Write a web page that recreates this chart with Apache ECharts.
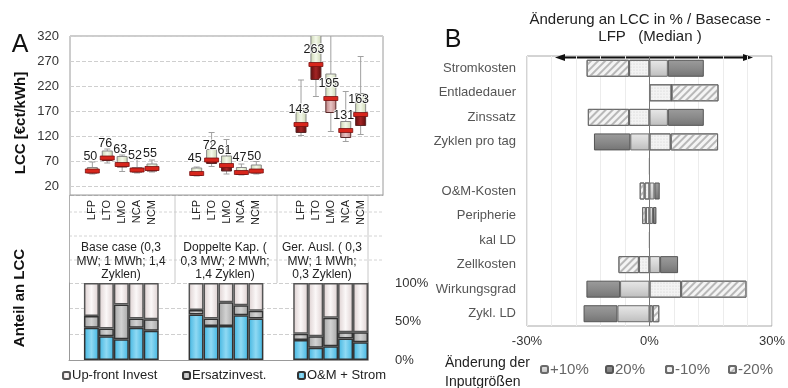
<!DOCTYPE html>
<html>
<head>
<meta charset="utf-8">
<title>LCC</title>
<script src="https://cdn.jsdelivr.net/npm/echarts@6/dist/echarts.min.js"></script>
<style>
    html, body { margin: 0; padding: 0; background: #fff; }
    #main { width: 788px; height: 388px; }
</style>
</head>
<body>
<div id="main"></div>
<script>
// ---- Panel A: LCC boxes per case / chemistry ----
var groups = [
    'Base case (0,3\nMW; 1 MWh; 1,4\nZyklen)',
    'Doppelte Kap. (\n0,3 MW; 2 MWh;\n1,4 Zyklen)',
    'Ger. Ausl. ( 0,3\nMW; 1 MWh;\n0,3 Zyklen)'
];
var chem = ['LFP', 'LTO', 'LMO', 'NCA', 'NCM'];

var lccMin = [[44, 66, 49, 46, 48], [40, 59, 44, 42, 44], [121, 199, 129, 109, 123]];
var lccQ1  = [[46, 71, 58, 48, 50], [41, 65, 50, 43, 46], [127, 233, 167, 117, 141]];
var lccMed = [[50, 76, 63, 52, 55], [45, 72, 61, 47, 50], [143, 263, 195, 131, 163]];
var lccQ3  = [[57, 90, 79, 57, 64], [56, 93, 80, 57, 62], [175, 340, 244, 149, 205]];
var lccMax = [[68, 94, 82, 73, 72], [58, 127, 113, 64, 69], [232, 360, 345, 209, 279]];

// share of LCC (%)
var shareOM      = [[42, 31, 27, 42, 38], [59, 44, 44, 58, 54], [26, 16, 18, 28, 23]];
var shareErsatz  = [[15, 10, 45, 12, 15], [6, 10, 31, 13, 10], [8, 15, 37, 8, 13]];
var shareUpfront = [[43, 59, 28, 46, 47], [35, 46, 25, 29, 36], [66, 69, 45, 64, 64]];

var lccTicks = [20, 70, 120, 170, 220, 270, 320];

// ---- Panel B: sensitivity (segment widths, stacked outward from 0, in %) ----
var params = ['Stromkosten', 'Entladedauer', 'Zinssatz', 'Zyklen pro tag', '',
    'O&M-Kosten', 'Peripherie', 'kal LD', 'Zellkosten', 'Wirkungsgrad', 'Zykl. LD'];
var plus10  = [4.5, 0, 4.5, -4.7, 0, 1.2, 0.85, 0, 2.6, -7.2, -7.85];
var plus20  = [8.8, 0, 8.8, -8.9, 0, 1.3, 0.85, 0, 4.4, -8.25, -8.3];
var minus10 = [-5.0, 5.4, -5.0, 5.2, 0, -1.2, -0.9, 0, -2.6, 7.75, 0.8];
var minus20 = [-10.4, 11.5, -10.1, 11.6, 0, -1.2, -0.9, 0, -5.0, 16.0, 1.6];

// slots on the x axis: 1 blank, 5 chem, 2 blank, ...
var slots = [];
for (var i = 0; i < 21; i++) slots.push('');
var boxData = [];
var omData = [], ersData = [], upData = [];
for (i = 0; i < 20; i++) { omData.push('-'); ersData.push('-'); upData.push('-'); }
for (var g = 0; g < 3; g++) {
    for (var c = 0; c < 5; c++) {
        var s = 1 + g * 7 + c;
        slots[s] = chem[c];
        boxData.push([s, lccMin[g][c], lccQ1[g][c], lccMed[g][c], lccQ3[g][c], lccMax[g][c], g, c]);
        omData[s] = shareOM[g][c];
        ersData[s] = shareErsatz[g][c];
        upData[s] = shareUpfront[g][c];
    }
}

var FONT = 'Liberation Sans, Arial, sans-serif';
var paleLower = {'2-2': true, '2-3': true};

function hGrad(a, b) {
    return new echarts.graphic.LinearGradient(0, 0, 1, 0, [
        {offset: 0, color: a}, {offset: 0.5, color: b}, {offset: 1, color: a}
    ]);
}

function renderBox(params, api) {
    var x = api.value(0);
    var pMin = api.coord([x, api.value(1)]);
    var pQ1 = api.coord([x, api.value(2)]);
    var pMed = api.coord([x, api.value(3)]);
    var pQ3 = api.coord([x, api.value(4)]);
    var pMax = api.coord([x, api.value(5)]);
    var cx = pMed[0];
    var bw = 10, mw = 14, cap = 3;
    var pale = paleLower[api.value(6) + '-' + api.value(7)];
    return {
        type: 'group',
        children: [
            {type: 'line', shape: {x1: cx, y1: pMax[1], x2: cx, y2: pMin[1]}, style: {stroke: '#a0a0a0', lineWidth: 1}},
            {type: 'line', shape: {x1: cx - cap, y1: pMax[1], x2: cx + cap, y2: pMax[1]}, style: {stroke: '#a0a0a0', lineWidth: 1}},
            {type: 'line', shape: {x1: cx - cap, y1: pMin[1], x2: cx + cap, y2: pMin[1]}, style: {stroke: '#a0a0a0', lineWidth: 1}},
            {type: 'rect', shape: {x: cx - bw / 2, y: pQ3[1], width: bw, height: pMed[1] - pQ3[1]},
                style: {fill: hGrad('#cbd6b2', '#f4f9ea'), stroke: '#8a8a8a', lineWidth: 1}},
            {type: 'rect', shape: {x: cx - bw / 2, y: pMed[1], width: bw, height: pQ1[1] - pMed[1]},
                style: {fill: pale ? hGrad('#bd8080', '#e6c3c3') : hGrad('#5e0c0c', '#a42424'), stroke: '#5a2a2a', lineWidth: 1}},
            {type: 'rect', shape: {x: cx - mw / 2, y: pMed[1] - 2, width: mw, height: 4},
                style: {fill: '#d8261c', stroke: '#7a1010', lineWidth: 0.8}},
            {type: 'text', x: cx - 2, y: pMed[1] - 14.5,
                style: {text: String(api.value(3)), align: 'center', verticalAlign: 'middle',
                    fontSize: 12.5, fontFamily: FONT, fill: '#1a1a1a', stroke: '#fff', lineWidth: 1.5}}
        ]
    };
}

var chart = echarts.init(document.getElementById('main'));

var tornadoBase = {type: 'bar', xAxisIndex: 2, yAxisIndex: 3, stack: 'tor', barWidth: 17};
var shareBase = {type: 'bar', xAxisIndex: 1, yAxisIndex: 2, stack: 'share', barWidth: 15};
var legBase = {itemWidth: 7, itemHeight: 7, padding: 0, itemGap: 0};

chart.setOption({
    animation: false,
    textStyle: {fontFamily: FONT},
    grid: [
        {left: 70, top: 36, width: 313, height: 159, show: true, borderColor: '#9a9a9a', borderWidth: 1},
        {left: 69, top: 283, width: 299, height: 77},
        {left: 527, top: 56, width: 250, height: 270, show: true, borderColor: '#a8a8a8', borderWidth: 1}
    ],
    xAxis: [
        {gridIndex: 0, type: 'category', data: slots, axisTick: {show: false},
            axisLine: {lineStyle: {color: '#aaa', type: 'dashed'}},
            axisLabel: {rotate: 90, interval: 0, fontSize: 11, color: '#222', margin: 5}},
        {gridIndex: 1, type: 'category', data: slots.slice(0, 20), axisTick: {show: false},
            axisLabel: {show: false}, axisLine: {lineStyle: {color: '#999'}}},
        {gridIndex: 2, type: 'value', min: -30, max: 30, interval: 6,
            axisLine: {show: false}, axisTick: {show: false},
            splitLine: {lineStyle: {color: '#ececec'}},
            axisLabel: {fontSize: 13, color: '#333', margin: 9,
                formatter: function (v) { return (v === -30 || v === 0 || v === 30) ? v + '%' : ''; }}}
    ],
    yAxis: [
        {gridIndex: 0, type: 'value', min: 2, max: 320,
            axisLine: {show: false},
            axisTick: {show: false, customValues: lccTicks},
            axisLabel: {customValues: lccTicks, fontSize: 13, color: '#333', margin: 11},
            splitLine: {lineStyle: {type: 'dashed', color: '#cfcfcf'}}},
        {gridIndex: 1, type: 'value', min: 0, max: 3, interval: 1,
            axisLabel: {show: false}, axisTick: {show: false},
            axisLine: {show: true, lineStyle: {color: '#999'}},
            splitLine: {lineStyle: {type: 'dashed', color: '#cfcfcf'}}},
        {gridIndex: 1, type: 'value', position: 'right', min: 0, max: 100, interval: 50,
            axisTick: {show: false}, splitLine: {show: false},
            axisLine: {show: true, lineStyle: {color: '#999'}},
            axisLabel: {formatter: '{value}%', margin: 27, fontSize: 13, color: '#333'}},
        {gridIndex: 2, type: 'category', data: params, inverse: true,
            axisTick: {show: false}, axisLine: {show: false},
            axisLabel: {fontSize: 13, color: '#555', margin: 11}}
    ],
    legend: [
        Object.assign({left: 62, top: 369, data: ['Up-front Invest'], textStyle: {fontSize: 13, color: '#222', padding: [0, 0, 0, -3]}}, legBase),
        Object.assign({left: 182, top: 369, data: ['Ersatzinvest.'], textStyle: {fontSize: 13, color: '#222', padding: [0, 0, 0, -3]}}, legBase),
        Object.assign({left: 297, top: 369, data: ['O&M + Strom'], textStyle: {fontSize: 13, color: '#222', padding: [0, 0, 0, -3]}}, legBase),
        Object.assign({left: 540, top: 362, data: ['+10%'], textStyle: {fontSize: 15, color: '#666', padding: [0, 0, 0, -3]}}, legBase),
        Object.assign({left: 605, top: 362, data: ['20%'], textStyle: {fontSize: 15, color: '#666', padding: [0, 0, 0, -3]}}, legBase),
        Object.assign({left: 665, top: 362, data: ['-10%'], textStyle: {fontSize: 15, color: '#666', padding: [0, 0, 0, -3]}}, legBase),
        Object.assign({left: 728, top: 362, data: ['-20%'], textStyle: {fontSize: 15, color: '#666', padding: [0, 0, 0, -3]}}, legBase)
    ],
    series: [
        {type: 'custom', name: 'LCC', xAxisIndex: 0, yAxisIndex: 0, clip: true,
            renderItem: renderBox, data: boxData, encode: {x: 0, y: [1, 2, 3, 4, 5]}},
        Object.assign({}, shareBase, {name: 'O&M + Strom', data: omData,
            itemStyle: {color: hGrad('#3fb4e0', '#8fd9f3'), borderColor: '#333', borderWidth: 1.5}}),
        Object.assign({}, shareBase, {name: 'Ersatzinvest.', data: ersData,
            itemStyle: {color: hGrad('#a4a4a4', '#d2d2d2'), borderColor: '#333', borderWidth: 1.5}}),
        Object.assign({}, shareBase, {name: 'Up-front Invest', data: upData,
            itemStyle: {color: hGrad('#dccfcf', '#fbf8f8'), borderColor: '#555', borderWidth: 1.5}}),

        Object.assign({}, tornadoBase, {name: '+10%', data: plus10,
            itemStyle: {color: new echarts.graphic.LinearGradient(0, 0, 0, 1, [
                {offset: 0, color: '#e8e8e8'}, {offset: 0.5, color: '#d4d4d4'}, {offset: 1, color: '#bdbdbd'}]),
                borderColor: '#6a6a6a', borderWidth: 1},
            markLine: {silent: true, symbol: 'none', label: {show: false},
                lineStyle: {color: '#777', width: 1, type: 'solid'}, data: [{xAxis: 0}]}}),
        Object.assign({}, tornadoBase, {name: '-10%', data: minus10,
            itemStyle: {color: '#f3f3f3', borderColor: '#6a6a6a', borderWidth: 1,
                decal: {symbol: 'circle', symbolSize: 0.6, dashArrayX: [2, 1], dashArrayY: [2, 1], color: 'rgba(170,170,170,0.5)'}}}),
        Object.assign({}, tornadoBase, {name: '20%', data: plus20,
            itemStyle: {color: new echarts.graphic.LinearGradient(0, 0, 0, 1, [
                {offset: 0, color: '#9c9c9c'}, {offset: 0.5, color: '#8a8a8a'}, {offset: 1, color: '#747474'}]),
                borderColor: '#555', borderWidth: 1}}),
        Object.assign({}, tornadoBase, {name: '-20%', data: minus20,
            itemStyle: {color: '#f4f4f4', borderColor: '#6a6a6a', borderWidth: 1,
                decal: {symbol: 'rect', symbolSize: 1, dashArrayX: [1, 0], dashArrayY: [1.5, 3],
                    rotation: -Math.PI / 4, color: '#b8b8b8'}}})
    ],
    graphic: [
        {type: 'text', x: 20, y: 45, style: {text: 'A', fontSize: 25, fontFamily: FONT, fill: '#111', align: 'center', verticalAlign: 'middle'}},
        {type: 'text', x: 453, y: 40, style: {text: 'B', fontSize: 25, fontFamily: FONT, fill: '#111', align: 'center', verticalAlign: 'middle'}},
        {type: 'text', x: 21, y: 123, rotation: Math.PI / 2,
            style: {text: 'LCC [€ct/kWh]', fontSize: 15, fontWeight: 'bold', fontFamily: FONT, fill: '#111', align: 'center', verticalAlign: 'middle'}},
        {type: 'text', x: 20, y: 298, rotation: Math.PI / 2,
            style: {text: 'Anteil an LCC', fontSize: 15, fontWeight: 'bold', fontFamily: FONT, fill: '#111', align: 'center', verticalAlign: 'middle'}},
        // table lines under panel A x axis
        {type: 'line', shape: {x1: 69, y1: 212, x2: 383, y2: 212}, style: {stroke: '#d4d4d4', lineDash: [3, 2]}},
        {type: 'line', shape: {x1: 69, y1: 236, x2: 383, y2: 236}, style: {stroke: '#d4d4d4', lineDash: [3, 2]}},
        {type: 'line', shape: {x1: 69, y1: 260, x2: 383, y2: 260}, style: {stroke: '#d4d4d4', lineDash: [3, 2]}},
        {type: 'line', shape: {x1: 69.5, y1: 195, x2: 69.5, y2: 283}, style: {stroke: '#b0b0b0'}},
        {type: 'line', shape: {x1: 175, y1: 195, x2: 175, y2: 283}, style: {stroke: '#c8c8c8'}},
        {type: 'line', shape: {x1: 277, y1: 195, x2: 277, y2: 283}, style: {stroke: '#c8c8c8'}},
        {type: 'line', shape: {x1: 368, y1: 195, x2: 368, y2: 283}, style: {stroke: '#c8c8c8'}},
        {type: 'text', x: 121, y: 261.5, style: {text: groups[0], fontSize: 12, lineHeight: 13.5, fontFamily: FONT, fill: '#222', align: 'center', verticalAlign: 'middle'}},
        {type: 'text', x: 225, y: 261.5, style: {text: groups[1], fontSize: 12, lineHeight: 13.5, fontFamily: FONT, fill: '#222', align: 'center', verticalAlign: 'middle'}},
        {type: 'text', x: 322, y: 261.5, style: {text: groups[2], fontSize: 12, lineHeight: 13.5, fontFamily: FONT, fill: '#222', align: 'center', verticalAlign: 'middle'}},
        // panel B title, arrow, legend caption
        {type: 'text', x: 650, y: 28.5, style: {text: 'Änderung an LCC in % / Basecase -\nLFP   (Median )', fontSize: 15, lineHeight: 17, fontFamily: FONT, fill: '#222', align: 'center', verticalAlign: 'middle'}},
        {type: 'line', shape: {x1: 560, y1: 57.5, x2: 748, y2: 57.5}, style: {stroke: '#111', lineWidth: 2}},
        {type: 'polygon', shape: {points: [[555, 57.5], [565, 54], [565, 61]]}, style: {fill: '#111'}},
        {type: 'polygon', shape: {points: [[753, 57.5], [743, 54], [743, 61]]}, style: {fill: '#111'}},
        {type: 'text', x: 445, y: 372.5, style: {text: 'Änderung der\nInputgrößen', fontSize: 14, lineHeight: 19, fontFamily: FONT, fill: '#222', align: 'left', verticalAlign: 'middle'}}
    ]
});
</script>
</body>
</html>
